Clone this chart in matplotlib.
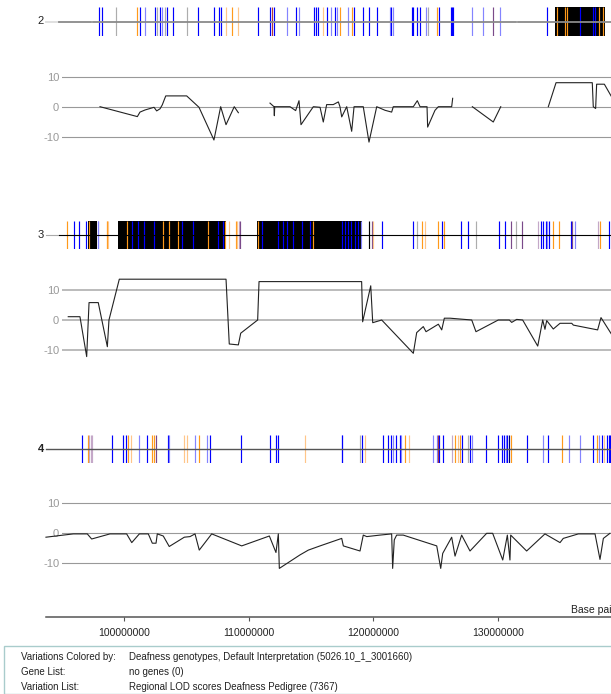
import numpy as np
import matplotlib.pyplot as plt
from matplotlib.patches import Rectangle

plt.rcParams['font.family'] = ['Liberation Sans', 'DejaVu Sans']

# positions are in Mbp
chr2_variants = [(97.99, 'B'), (98.21, 'B'), (99.31, 'g'), (101.05, 'O'), (101.26, 'B'), (101.64, 'b'),
                 (102.44, 'B'), (102.60, 'g'), (102.87, 'B'), (103.05, 'b'), (103.25, 'g'), (103.43, 'B'),
                 (103.94, 'B'), (105.04, 'g'), (105.94, 'B'), (107.18, 'B'), (107.58, 'B'), (107.74, 'B'),
                 (108.17, 'o'), (108.65, 'O'), (109.11, 'o'), (110.71, 'B'), (111.70, 'B'), (111.86, 'R'),
                 (112.02, 'B'), (113.04, 'b'), (113.81, 'B'), (114.03, 'b'), (115.23, 'B'), (115.39, 'B'),
                 (115.58, 'B'), (115.93, 'o'), (116.25, 'B'), (116.58, 'b'), (116.92, 'B'), (117.11, 'b'),
                 (117.32, 'O'), (117.94, 'b'), (118.26, 'O'), (118.45, 'B'), (119.14, 'B'), (119.63, 'B'),
                 (120.27, 'B'), (121.34, 'b'), (121.45, 'B'), (121.55, 'b'), (123.08, 'B'), (123.21, 'B'),
                 (123.53, 'B'), (123.75, 'B'), (124.23, 'b'), (124.39, 'g'), (125.09, 'O'), (125.25, 'B'),
                 (126.24, 'B'), (126.33, 'B'), (126.42, 'B'), (127.90, 'b'), (128.78, 'b'), (129.63, 'P'),
                 (130.17, 'b'), (133.97, 'B'), (134.77, 'O'), (135.39, 'O'), (135.53, 'O'), (136.59, 'B'),
                 (137.66, 'B'), (137.80, 'B'), (138.12, 'O'), (138.47, 'O')]
chr2_blocks = [(134.59, 138.60)]
chr2_backbone = [(94.76, 97.33), (97.49, 131.45), (131.62, 139.2)]

chr3_variants = [(95.44, 'O'), (95.96, 'B'), (96.39, 'B'), (96.93, 'B'), (97.19, 'O'), (97.86, 'b'),
                 (97.92, 'b'), (98.58, 'o'), (98.64, 'O'), (98.70, 'o'), (100.24, 'O'), (100.60, 'B'),
                 (101.13, 'B'), (101.61, 'B'), (102.41, 'B'), (103.13, 'O'), (103.59, 'O'), (104.29, 'O'),
                 (104.61, 'B'), (105.49, 'B'), (106.75, 'O'), (107.55, 'B'), (107.90, 'B'), (108.11, 'O'),
                 (108.43, 'o'), (108.97, 'O'), (109.08, 'o'), (109.21, 'p'), (109.29, 'P'), (110.76, 'O'),
                 (111.08, 'B'), (112.37, 'B'), (112.72, 'B'), (113.09, 'B'), (113.57, 'B'), (114.25, 'B'),
                 (114.91, 'B'), (115.18, 'O'), (117.46, 'B'), (117.72, 'B'), (117.96, 'B'), (118.21, 'B'),
                 (118.53, 'B'), (118.77, 'B'), (119.01, 'b'), (119.67, 'k'), (119.87, 'P'), (120.00, 'o'),
                 (120.67, 'B'), (123.16, 'B'), (123.48, 'g'), (123.88, 'O'), (124.15, 'o'), (125.22, 'O'),
                 (125.49, 'B'), (125.70, 'O'), (127.04, 'B'), (127.63, 'B'), (128.24, 'g'), (130.09, 'B'),
                 (130.57, 'B'), (131.03, 'P'), (131.45, 'g'), (131.96, 'P'), (133.20, 'p'), (133.44, 'B'),
                 (133.65, 'B'), (133.86, 'B'), (133.97, 'b'), (134.13, 'B'), (134.40, 'O'), (134.93, 'O'),
                 (135.85, 'B'), (135.93, 'P'), (136.19, 'b'), (138.01, 'p'), (138.20, 'O'), (138.95, 'B')]
chr3_blocks = [(97.06, 97.83), (99.52, 108.14), (110.68, 119.06)]
chr3_backbone = [(94.76, 139.2)]

chr4_variants = [(96.58, 'B'), (97.06, 'O'), (97.19, 'p'), (97.30, 'p'), (97.38, 'p'), (98.99, 'B'),
                 (99.87, 'B'), (100.14, 'B'), (100.32, 'O'), (100.52, 'o'), (101.18, 'b'), (101.85, 'B'),
                 (102.25, 'O'), (102.39, 'O'), (102.55, 'P'), (103.49, 'B'), (103.59, 'b'), (104.77, 'o'),
                 (105.01, 'o'), (105.68, 'b'), (106.00, 'O'), (106.62, 'b'), (106.88, 'B'), (109.37, 'B'),
                 (111.70, 'B'), (112.16, 'B'), (112.37, 'B'), (114.51, 'o'), (117.46, 'b'), (117.52, 'B'),
                 (118.93, 'g'), (119.11, 'B'), (119.33, 'o'), (120.75, 'B'), (121.15, 'B'), (121.39, 'B'),
                 (121.55, 'b'), (121.80, 'B'), (122.14, 'B'), (122.22, 'b'), (122.54, 'O'), (122.86, 'o'),
                 (124.81, 'b'), (125.09, 'b'), (125.22, 'R'), (125.30, 'B'), (125.62, 'B'), (126.29, 'p'),
                 (126.56, 'O'), (126.82, 'o'), (126.96, 'O'), (127.14, 'B'), (127.62, 'g'), (127.76, 'B'),
                 (127.95, 'b'), (129.02, 'B'), (130.03, 'B'), (130.31, 'B'), (130.49, 'B'), (130.63, 'b'),
                 (130.76, 'B'), (130.92, 'n'), (131.03, 'O'), (132.31, 'B'), (133.60, 'b'), (134.05, 'B'),
                 (135.12, 'O'), (135.73, 'b'), (136.59, 'b'), (137.66, 'B'), (137.93, 'O'), (138.12, 'b'),
                 (138.34, 'B'), (138.52, 'o'), (138.76, 'B'), (138.92, 'B'), (139.00, 'B')]
chr4_blocks = []
chr4_backbone = [(93.71, 139.2)]

nan = np.nan
chr2_lod_pos = [98.05, 101.05, 101.26, 101.66, 102.39, 102.60, 102.87, 103.05, 103.33, 105.01, 106.00,
                107.20, 107.74, 108.17, 108.83, 109.16, nan,
                111.70, 112.02, 112.05, 112.08, 113.31, 113.76, 114.03, 114.19, 115.18, 115.72, 115.98,
                116.25, 116.78, 117.19, 117.32, 117.46, 117.86, 118.26, 118.45, 119.19, 119.65, 120.27,
                120.94, 121.47, 121.60, 123.21, 123.53, 123.75, 124.31, 124.36, 124.95, 125.22, 126.29,
                126.37, nan,
                127.95, 129.63, 130.23, nan,
                134.05, 134.67, 137.58, 137.66, 137.85, 137.93, 138.55, 139.24]
chr2_lod_val = [0, -3.3, -1.8, -1.1, -0.2, -1.4, -0.7, 0.6, 3.6, 3.6, -0.2,
                -11.1, 0, -6, 0, -2, nan,
                1.2, 0, -3, 0, 0, -1.3, 2, -6, 0, -0.2, -5.1,
                0.7, 0.7, 1.6, 0, -3.4, 0, -8.2, 0, 0, -11.8, 0,
                -1.2, -1.8, 0, 0, 2, 0, 0, -6.8, -1.2, 0, 0,
                2.8, nan,
                0, -5.1, 0, nan,
                0, 8, 8, 0, -0.6, 7.5, 7.5, 2.5]

chr3_lod_pos = [95.50, 96.44, 96.98, 97.17, 97.91, 98.64, 98.77, 99.60, 108.17, 108.43, 109.16, 109.35,
                110.71, 110.82, 119.06, 119.14, 119.79, 119.95, 120.67, 123.21, 123.48, 124.01, 124.23,
                125.22, 125.49, 125.70, 126.16, 127.90, 128.24, 130.03, 130.92, 131.11, 131.51, 131.99,
                133.20, 133.60, 133.78, 133.92, 134.45, 134.99, 135.93, 136.06, 138.01, 138.28, 139.24]
chr3_lod_val = [1.1, 1.1, -12.2, 5.8, 5.8, -8.9, 0, 13.6, 13.6, -8, -8.3, -4.4,
                0, 12.8, 12.8, -0.6, 11.4, -0.9, 0, -11.1, -4.2, -2.2, -3.9,
                -1.4, -3.3, 0.6, 0.6, 0, -3.9, 0, 0, -0.8, 0.2, 0,
                -8.7, 0, -3.1, -0.2, -3, -1.1, -1.1, -1.7, -3.3, 0.8, -5.5]

chr4_lod_pos = [93.71, 95.10, 95.91, 97.03, 97.38, 98.85, 100.19, 100.60, 101.21, 101.93, 102.25, 102.55,
                102.65, 103.13, 103.61, 104.82, 105.28, 105.68, 106.02, 107.02, 109.43, 111.65, 112.18,
                112.37, 112.45, 114.11, 114.78, 115.72, 117.46, 117.59, 118.93, 119.19, 119.47, 120.53,
                121.47, 121.55, 121.68, 121.87, 122.40, 125.09, 125.41, 125.57, 126.29, 126.56, 127.09,
                127.76, 129.10, 129.58, 130.39, 130.76, 130.97, 131.03, 132.31, 133.78, 134.99, 135.25,
                136.46, 137.80, 138.20, 138.47, 139.00]
chr4_lod_val = [-1.3, -0.6, -0.2, -0.2, -1.9, -0.2, -0.2, -3.1, -0.2, -0.2, -3.3, -3.3,
                -0.2, -0.9, -4.4, -1.3, -1.1, -0.2, -5.6, -0.2, -4.2, -0.9, -6.4,
                -0.2, -11.7, -7.2, -5.6, -4.2, -1.7, -4.2, -5.9, -0.6, -1.1, -0.6,
                -0.2, -11.7, -2.2, -0.6, -0.6, -4.2, -11.7, -6.7, -1.3, -7.6, -0.6,
                -5.9, 0, 0, -8.9, -0.6, -8.9, -0.6, -5.9, -0.2, -3.1, -1.7,
                -0.2, -0.2, -8.7, -1.7, 0]

axis_ticks = [100, 110, 120, 130]
legend_rows = [('Variations Colored by:', 'Deafness genotypes, Default Interpretation (5026.10_1_3001660)'),
               ('Gene List:', 'no genes (0)'),
               ('Variation List:', 'Regional LOD scores Deafness Pedigree (7367)')]

colors = {'B': '#0000ff', 'b': '#8484ff', 'O': '#ff9a1a', 'o': '#ffc689', 'g': '#adadad',
          'P': '#7a4a8a', 'p': '#c4a8c8', 'R': '#b03a3a', 'k': '#000000', 'n': '#000070'}

W, H = 611, 694
BP0, BP_PX = 90.02, 0.0803  # Mbp at left edge, Mbp per pixel
fig = plt.figure(figsize=(W / 100, H / 100), dpi=100)


def px_axes(x0, y0, x1, y1):
    ax = fig.add_axes([x0 / W, 1 - y1 / H, (x1 - x0) / W, (y1 - y0) / H])
    ax.set_xlim(BP0 + x0 * BP_PX, BP0 + x1 * BP_PX)
    ax.axis('off')
    return ax


def draw_track(y0, y1, variants, blocks, backbone, label, bb_color, bb_lw, lead, bold=False):
    ax = px_axes(0, y0, W, y1)
    ax.set_ylim(0, 1)
    for a, b in blocks:
        ax.axvspan(a, b, color='black', lw=0, zorder=1)
    pos = [v[0] for v in variants]
    cols = [colors[v[1]] for v in variants]
    ax.vlines(pos, 0, 1, colors=cols, lw=0.85, zorder=2)
    if lead:
        ax.plot([BP0 + 46 * BP_PX, backbone[0][0]], [0.5, 0.5], color=lead, lw=bb_lw, zorder=3)
    for a, b in backbone:
        ax.plot([a, b], [0.5, 0.5], color=bb_color, lw=bb_lw, zorder=3)
    fig.text(44 / W, 1 - (y0 + y1) / 2 / H, label, ha='right', va='center', fontsize=8,
             color='#222222', fontweight='bold' if bold else 'normal')


def draw_lod(zero_y, pos, val, grid_color, grid_lw):
    ax = px_axes(62, zero_y - 45, W, zero_y + 45)
    ax.axis('on')
    ax.set_ylim(-15, 15)
    for s in ax.spines.values():
        s.set_visible(False)
    ax.set_xticks([])
    ax.set_yticks([-10, 0, 10])
    ax.set_yticklabels(['-10', '0', '10'])
    ax.tick_params(axis='y', length=0, pad=2, labelsize=8, labelcolor='#999999')
    for g in [-10, 0, 10]:
        ax.axhline(g, color=grid_color, lw=grid_lw, zorder=1)
    ax.plot(pos, val, color='#222222', lw=0.8, clip_on=False, zorder=2)


draw_track(7, 36, chr2_variants, chr2_blocks, chr2_backbone, '2', '#8a8a8a', 1.3, '#dddddd')
draw_lod(106.7, chr2_lod_pos, chr2_lod_val, '#999999', 0.8)
draw_track(221, 249, chr3_variants, chr3_blocks, chr3_backbone, '3', '#000000', 0.8, '#aaaaaa')
draw_lod(320, chr3_lod_pos, chr3_lod_val, '#bbbbbb', 1.4)
draw_track(435, 463, chr4_variants, chr4_blocks, chr4_backbone, '4', '#555555', 1.0, None, bold=True)
draw_lod(533.3, chr4_lod_pos, chr4_lod_val, '#999999', 0.8)

# base pair axis
ax = px_axes(46, 600, W, 617.3)
ax.axis('on')
for k, s in ax.spines.items():
    s.set_visible(k == 'bottom')
ax.spines['bottom'].set_color('#555555')
ax.spines['bottom'].set_linewidth(1.1)
ax.set_yticks([])
ax.set_xticks(axis_ticks)
ax.set_xticklabels([f'{t * 1000000}' for t in axis_ticks])
ax.tick_params(axis='x', length=3, width=0.8, color='#555555', pad=5, labelsize=7.5,
               labelcolor='#222222')
fig.text(571 / W, 1 - 610 / H, 'Base pairs', fontsize=7.5, va='center', color='#222222')

# legend box
fig.patches.append(Rectangle((4 / W, 0), 1, 1 - 646 / H, transform=fig.transFigure,
                             facecolor='white', edgecolor='#a9cccc', lw=1))
for i, (k, v) in enumerate(legend_rows):
    y = 1 - (656.5 + 15.5 * i) / H
    fig.text(20.7 / W, y, k, fontsize=7, va='center', color='#222222')
    fig.text(129 / W, y, v, fontsize=7, va='center', color='#222222')

fig.savefig('out.png', dpi=100)
